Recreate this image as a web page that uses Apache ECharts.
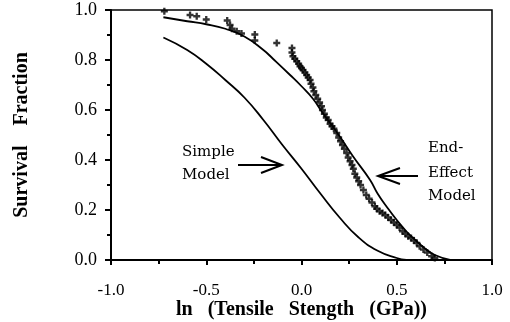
<!DOCTYPE html>
<html>
<head>
<meta charset="utf-8">
<script src="https://cdn.jsdelivr.net/npm/echarts@6/dist/echarts.min.js"></script>
<style>
  html, body { margin: 0; padding: 0; background: #fff; }
  #chart { width: 510px; height: 322px; }
</style>
</head>
<body>
<div id="chart"></div>
<script>
// measured points: [ln strength, survival fraction]
const measured = [
  [-0.72, 0.995], [-0.585, 0.98], [-0.55, 0.975], [-0.5, 0.962], [-0.39, 0.958],
  [-0.375, 0.94], [-0.365, 0.925], [-0.34, 0.915], [-0.315, 0.906], [-0.245, 0.902],
  [-0.245, 0.878], [-0.13, 0.868], [-0.05, 0.848], [-0.05, 0.83], [-0.045, 0.815],
  [-0.035, 0.805], [-0.025, 0.795], [-0.015, 0.785], [-0.008, 0.775], [0.0, 0.768],
  [0.008, 0.76], [0.018, 0.75], [0.027, 0.74], [0.035, 0.73], [0.045, 0.72],
  [0.05, 0.705], [0.06, 0.69], [0.065, 0.675], [0.075, 0.66], [0.085, 0.645],
  [0.095, 0.63], [0.105, 0.615], [0.11, 0.6], [0.12, 0.585], [0.13, 0.57],
  [0.14, 0.56], [0.15, 0.545], [0.16, 0.535], [0.17, 0.525], [0.185, 0.508],
  [0.195, 0.49], [0.205, 0.475], [0.215, 0.46], [0.225, 0.445], [0.237, 0.428],
  [0.245, 0.41], [0.255, 0.395], [0.265, 0.38], [0.272, 0.365], [0.28, 0.345],
  [0.29, 0.33], [0.3, 0.315], [0.31, 0.3], [0.325, 0.28], [0.34, 0.26],
  [0.355, 0.245], [0.37, 0.23], [0.385, 0.215], [0.395, 0.205], [0.41, 0.195],
  [0.425, 0.188], [0.44, 0.18], [0.455, 0.17], [0.47, 0.16], [0.485, 0.15],
  [0.5, 0.14], [0.515, 0.13], [0.53, 0.115], [0.545, 0.105], [0.56, 0.095],
  [0.575, 0.088], [0.59, 0.078], [0.605, 0.068], [0.62, 0.055], [0.64, 0.042],
  [0.66, 0.03], [0.683, 0.015], [0.7, 0.008]
];

const simpleModel = [
  [-0.725, 0.89], [-0.6, 0.84], [-0.5, 0.785], [-0.4, 0.72], [-0.3, 0.65],
  [-0.2, 0.56], [-0.1, 0.46], [0.0, 0.365], [0.1, 0.265], [0.2, 0.17],
  [0.3, 0.09], [0.4, 0.037], [0.5, 0.008], [0.55, 0.0]
];

const endEffectModel = [
  [-0.725, 0.971], [-0.6, 0.955], [-0.5, 0.943], [-0.4, 0.925], [-0.3, 0.894],
  [-0.2, 0.84], [-0.15, 0.805], [-0.06, 0.74], [0.0, 0.695], [0.06, 0.645],
  [0.11, 0.59], [0.2, 0.495], [0.27, 0.415], [0.36, 0.32], [0.4, 0.265],
  [0.45, 0.21], [0.5, 0.16], [0.55, 0.115], [0.6, 0.078], [0.65, 0.045],
  [0.7, 0.02], [0.78, 0.0]
];

const xTicks = [-1.0, -0.5, 0.0, 0.5, 1.0];
const yTicks = [0.0, 0.2, 0.4, 0.6, 0.8, 1.0];

const chart = echarts.init(document.getElementById("chart"));

const serif = "Liberation Serif";
const plusSymbol = "path://M2,0H4V2H6V4H4V6H2V4H0V2H2Z";
const noteFont = "15px 'DejaVu Serif'";

const option = {
  animation: false,
  backgroundColor: "#fff",
  grid: {
    left: 111, top: 10, right: 18, bottom: 62,
    outerBoundsMode: "none",
    show: true, borderColor: "#000", borderWidth: 1.5
  },
  xAxis: {
    type: "value",
    min: xTicks[0], max: xTicks[xTicks.length - 1], interval: 0.5,
    name: "ln   (Tensile   Stength   (GPa))",
    nameLocation: "middle", nameGap: 40, nameMoveOverlap: false,
    nameTextStyle: { fontFamily: serif, fontWeight: "bold", fontSize: 20, color: "#000" },
    axisLine: { onZero: false, lineStyle: { color: "#000", width: 2 } },
    axisTick: { length: 5, lineStyle: { color: "#000", width: 2 } },
    minorTick: { show: true, splitNumber: 2, length: 4, lineStyle: { color: "#000", width: 2 } },
    splitLine: { show: false },
    axisLabel: {
      fontFamily: serif, fontSize: 17, color: "#000", margin: 22,
      formatter: v => v.toFixed(1)
    }
  },
  yAxis: {
    type: "value",
    min: yTicks[0], max: yTicks[yTicks.length - 1], interval: 0.2,
    name: "Survival    Fraction",
    nameLocation: "middle", nameGap: 79, nameMoveOverlap: false,
    nameTextStyle: { fontFamily: serif, fontWeight: "bold", fontSize: 20, color: "#000" },
    axisLine: { onZero: false, lineStyle: { color: "#000", width: 2 } },
    axisTick: { length: 6, lineStyle: { color: "#000", width: 2 } },
    minorTick: { show: true, splitNumber: 2, length: 4, lineStyle: { color: "#000", width: 2 } },
    splitLine: { show: false },
    axisLabel: {
      fontFamily: serif, fontSize: 18, color: "#000", margin: 14,
      formatter: v => v.toFixed(1)
    }
  },
  series: [
    {
      name: "Simple Model", type: "line", data: simpleModel,
      smooth: true, showSymbol: false,
      lineStyle: { color: "#000", width: 1.8 }
    },
    {
      name: "End-Effect Model", type: "line", data: endEffectModel,
      smooth: true, showSymbol: false,
      lineStyle: { color: "#000", width: 1.8 }
    },
    {
      name: "Measured", type: "scatter", data: measured,
      symbol: plusSymbol, symbolSize: 7,
      itemStyle: { color: "#000" }
    }
  ],
  graphic: [
    { type: "text", left: 182, top: 145, style: { text: "Simple", font: noteFont, fill: "#000" } },
    { type: "text", left: 182, top: 168, style: { text: "Model", font: noteFont, fill: "#000" } },
    { type: "polyline", shape: { points: [[238, 165], [281, 165]] }, style: { stroke: "#000", lineWidth: 2 } },
    { type: "polyline", shape: { points: [[261, 157], [282, 165], [261, 173]] }, style: { stroke: "#000", lineWidth: 2, fill: null } },
    { type: "text", left: 428, top: 141, style: { text: "End-", font: noteFont, fill: "#000" } },
    { type: "text", left: 428, top: 166, style: { text: "Effect", font: noteFont, fill: "#000" } },
    { type: "text", left: 428, top: 189, style: { text: "Model", font: noteFont, fill: "#000" } },
    { type: "polyline", shape: { points: [[418, 176], [379, 176]] }, style: { stroke: "#000", lineWidth: 2 } },
    { type: "polyline", shape: { points: [[400, 168], [378, 176], [400, 184]] }, style: { stroke: "#000", lineWidth: 2, fill: null } }
  ]
};

chart.setOption(option);
</script>
</body>
</html>
